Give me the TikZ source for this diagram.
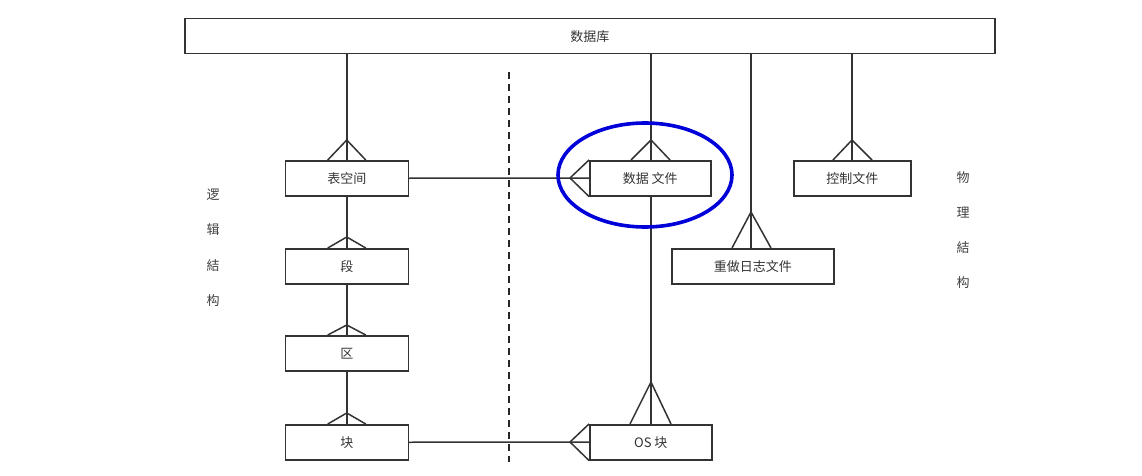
\documentclass[tikz,border=0pt]{standalone}
\usepackage{fontspec}
\newfontfamily\cjk{Noto Sans CJK SC}
\begin{document}
\begin{tikzpicture}[x=1pt,y=-1pt,
  ent/.style={draw=black!80,line width=1.5pt,minimum height=35pt,inner sep=0pt,font=\cjk\fontsize{13}{15}\selectfont,text=black!80,anchor=north west},
  conn/.style={draw=black!80,line width=1.5pt},
  lbl/.style={font=\cjk\fontsize{13}{15}\selectfont,text=black!75}]
\useasboundingbox (0,0) rectangle (1142,476);
% boxes
\node[ent,minimum width=810pt] (db) at (184,18) {数据库};
\node[ent,minimum width=123pt] (ts) at (284.5,160) {表空间};
\node[ent,minimum width=123pt] (seg) at (284.5,248) {段};
\node[ent,minimum width=123pt] (ext) at (284.5,335) {区};
\node[ent,minimum width=123pt] (blk) at (284.5,424) {块};
\node[ent,minimum width=121pt] (df) at (589,160) {数据 文件};
\node[ent,minimum width=162pt] (redo) at (671,248) {重做日志文件};
\node[ent,minimum width=117pt] (ctl) at (793,160) {控制文件};
\node[ent,minimum width=122pt] (os) at (589,424) {OS 块};
% apex coordinates
\coordinate (aTs) at ([yshift=20pt]ts.north);
\coordinate (aSeg) at ([yshift=11pt]seg.north);
\coordinate (aExt) at ([yshift=10pt]ext.north);
\coordinate (aBlk) at ([yshift=11pt]blk.north);
\coordinate (aDf) at (651,140);
\coordinate (aDfL) at (570,178);
\coordinate (aRedo) at (751,212);
\coordinate (aCtl) at (852,140);
\coordinate (aOs) at (651,382);
\coordinate (aOsL) at (570,442);
% vertical connectors
\draw[conn] (db.south -| aTs) -- (aTs) -- (ts.north);
\draw[conn] (aTs) -- ([xshift=-19pt]ts.north);
\draw[conn] (aTs) -- ([xshift=19pt]ts.north);
\draw[conn] (ts.south) -- (aSeg) -- (seg.north);
\draw[conn] (aSeg) -- ([xshift=-19pt]seg.north);
\draw[conn] (aSeg) -- ([xshift=19pt]seg.north);
\draw[conn] (seg.south) -- (aExt) -- (ext.north);
\draw[conn] (aExt) -- ([xshift=-19pt]ext.north);
\draw[conn] (aExt) -- ([xshift=19pt]ext.north);
\draw[conn] (ext.south) -- (aBlk) -- (blk.north);
\draw[conn] (aBlk) -- ([xshift=-19pt]blk.north);
\draw[conn] (aBlk) -- ([xshift=19pt]blk.north);
% data file
\draw[conn] (db.south -| aDf) -- (df.north -| aDf);
\draw[conn] (aDf) -- ([xshift=-20pt]df.north -| aDf);
\draw[conn] (aDf) -- ([xshift=19pt]df.north -| aDf);
\draw[conn] (ts.east) -- (aDfL) -- (df.west);
\draw[conn] (aDfL) -- (df.north west);
\draw[conn] (aDfL) -- (df.south west);
% data file to OS block
\draw[conn] (df.south -| aDf) -- (os.north -| aOs);
\draw[conn] (aOs) -- ([xshift=-21pt]os.north -| aOs);
\draw[conn] (aOs) -- ([xshift=20pt]os.north -| aOs);
\draw[conn] (blk.east) -- (aOsL) -- (os.west);
\draw[conn] (aOsL) -- (os.north west);
\draw[conn] (aOsL) -- (os.south west);
% redo
\draw[conn] (db.south -| aRedo) -- (redo.north -| aRedo);
\draw[conn] (aRedo) -- ([xshift=-19pt]redo.north -| aRedo);
\draw[conn] (aRedo) -- ([xshift=20pt]redo.north -| aRedo);
% control
\draw[conn] (db.south -| aCtl) -- (ctl.north -| aCtl);
\draw[conn] (aCtl) -- ([xshift=-19pt]ctl.north -| aCtl);
\draw[conn] (aCtl) -- ([xshift=20pt]ctl.north -| aCtl);
% dashed divider
\draw[black!85,line width=1.8pt,dash pattern=on 7pt off 5pt] (509,72) -- (509,462);
% highlight ellipse
\draw[blue!85!black,line width=3.6pt] (645,175) ellipse [x radius=87, y radius=52];
% side labels
\node[lbl] (l1) at (213,195) {逻};
\node[lbl] (l2) at (213,230) {辑};
\node[lbl] (l3) at (213,266) {結};
\node[lbl] (l4) at (213,301) {构};
\node[lbl] (r1) at (963,178) {物};
\node[lbl] (r2) at (963,213) {理};
\node[lbl] (r3) at (963,248) {結};
\node[lbl] (r4) at (963,283) {构};
\end{tikzpicture}
\end{document}
